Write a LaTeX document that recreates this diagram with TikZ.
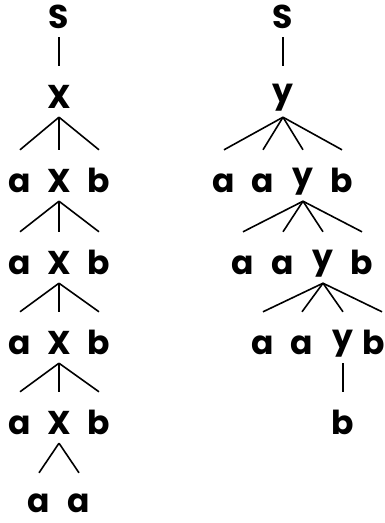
\documentclass[tikz,border=0pt]{standalone}
\usepackage{fontspec}
\setmainfont{Poppins}[UprightFont=* Bold]
\newcommand{\upy}{\raisebox{0.18em}{y}}
\begin{document}
\begin{tikzpicture}[x=1pt,y=-1pt,
  sym/.style={anchor=base,inner sep=0pt,text height=42pt,text depth=9pt,font=\fontsize{33}{33}\selectfont},
  leaf/.style={sym,text depth=1pt},
  edge/.style={line width=1.6pt}]
\useasboundingbox (0,0) rectangle (385,523);
% left tree
\node[sym] (lS) at (59,28) {S};
\node[sym] (lX0) at (59,108) {X};
\node[sym] (la1) at (20,192) {a};
\node[sym] (lX1) at (59,192) {X};
\node[sym] (lb1) at (99,192) {b};
\node[sym] (la2) at (20,274) {a};
\node[sym] (lX2) at (59,274) {X};
\node[sym] (lb2) at (99,274) {b};
\node[sym] (la3) at (20,354) {a};
\node[sym] (lX3) at (59,354) {X};
\node[sym] (lb3) at (99,354) {b};
\node[sym] (la4) at (20,434) {a};
\node[sym] (lX4) at (59,434) {X};
\node[sym] (lb4) at (99,434) {b};
\node[leaf] (la5) at (39,512) {a};
\node[leaf] (la6) at (79,512) {a};
\draw[edge] (lS.south) -- (lX0.north);
\foreach \p/\r in {lX0/1,lX1/2,lX2/3,lX3/4}{
  \draw[edge] (\p.south) -- (la\r.north);
  \draw[edge] (\p.south) -- (lX\r.north);
  \draw[edge] (\p.south) -- (lb\r.north);
}
\draw[edge] (lX4.south) -- ([yshift=-3pt]la5.north);
\draw[edge] (lX4.south) -- ([yshift=-3pt]la6.north);
% right tree
\node[sym] (rS) at (283,28) {S};
\node[sym] (rY0) at (283,108) {\upy};
\node[sym] (ra1) at (224,192) {a};
\node[sym] (rc1) at (263,192) {a};
\node[sym] (rY1) at (303,192) {\upy};
\node[sym] (rb1) at (342,192) {b};
\node[sym] (ra2) at (243,274) {a};
\node[sym] (rc2) at (283,274) {a};
\node[sym] (rY2) at (323,274) {\upy};
\node[sym] (rb2) at (362,274) {b};
\node[sym] (ra3) at (263,354) {a};
\node[sym] (rc3) at (302,354) {a};
\node[sym] (rY3) at (343,354) {\upy};
\node[sym] (rb3) at (374,354) {b};
\node[sym] (rb4) at (343,434) {b};
\draw[edge] (rS.south) -- (rY0.north);
\foreach \p/\r in {rY0/1,rY1/2}{
  \draw[edge] (\p.south) -- (ra\r.north);
  \draw[edge] (\p.south) -- (rc\r.north);
  \draw[edge] (\p.south) -- (rY\r.north);
  \draw[edge] (\p.south) -- (rb\r.north);
}
\draw[edge] (rY2.south) -- (ra3.north);
\draw[edge] (rY2.south) -- (rc3.north);
\draw[edge] (rY2.south) -- (rY3.north);
\draw[edge] (rY2.south) -- ([xshift=8pt]rb3.north);
\draw[edge] (rY3.south) -- (rb4.north);
\end{tikzpicture}
\end{document}
